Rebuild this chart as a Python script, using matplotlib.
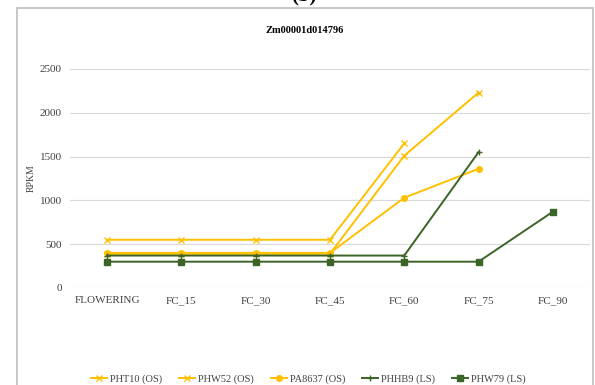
"""Line chart of RPKM across flowering / FC stages for Zm00001d014796."""
import matplotlib
matplotlib.use("Agg")
import matplotlib.pyplot as plt
import numpy as np
from matplotlib.patches import Rectangle

plt.rcParams['font.family'] = ['Liberation Serif', 'DejaVu Serif']

stages = ['FLOWERING', 'FC_15', 'FC_30', 'FC_45', 'FC_60', 'FC_75', 'FC_90']
pht10 = [550, 550, 550, 550, 1650, np.nan, np.nan]
phw52 = [390, 390, 390, 390, 1510, 2230, np.nan]
pa8637 = [400, 400, 400, 400, 1030, 1360, np.nan]
phhb9 = [370, 370, 370, 370, 370, 1550, np.nan]
phw79 = [300, 300, 300, 300, 300, 300, 870]

yellow = '#FFC000'
green = '#3B6427'

fig = plt.figure(figsize=(5.95, 3.85), dpi=100)
ax = fig.add_axes([0.1176, 0.252, 0.874, 0.569])

x = np.arange(len(stages))
ax.plot(x, pht10, color=yellow, marker='x', markersize=4, lw=1.4, label='PHT10 (OS)')
ax.plot(x, phw52, color=yellow, marker='x', markersize=4, lw=1.4, label='PHW52 (OS)')
ax.plot(x, pa8637, color=yellow, marker='o', markersize=4, lw=1.4, label='PA8637 (OS)')
ax.plot(x, phhb9, color=green, marker='+', markersize=4, lw=1.4, label='PHHB9 (LS)')
ax.plot(x, phw79, color=green, marker='s', markersize=4.5, lw=1.4, label='PHW79 (LS)')

ax.set_xlim(-0.5, len(stages) - 0.5)
ax.set_ylim(0, 2500)
ax.set_yticks(range(0, 2501, 500))
ax.set_xticks(x)
ax.set_xticklabels(stages)
ax.grid(axis='y', color='#d9d9d9', lw=0.8)
ax.set_axisbelow(True)
for s in ax.spines.values():
    s.set_visible(False)
ax.tick_params(length=0, labelsize=8, colors='#404040')
ax.tick_params(axis='y', pad=6)
ax.tick_params(axis='x', pad=6)
ax.set_ylabel('RPKM', fontsize=7, color='#404040', labelpad=3)

# chart frame and titles
fig.patches.append(Rectangle((17 / 595, -0.05), 576 / 595, 1.03, transform=fig.transFigure,
                             fill=False, edgecolor='#bfbfbf', lw=1.2))
fig.text(0.512, 0.92, 'Zm00001d014796', ha='center', va='center', fontsize=7.5,
         fontweight='bold')
fig.text(0.51, 1.012, '(b)', ha='center', va='center', fontsize=15, fontweight='bold')

fig.legend(loc='center', bbox_to_anchor=(0.518, 0.016), ncol=5, frameon=False,
           fontsize=7.5, handlelength=1.6, handletextpad=0.25, columnspacing=1.6,
           labelcolor='#404040')

fig.savefig('out.png', dpi=100)
